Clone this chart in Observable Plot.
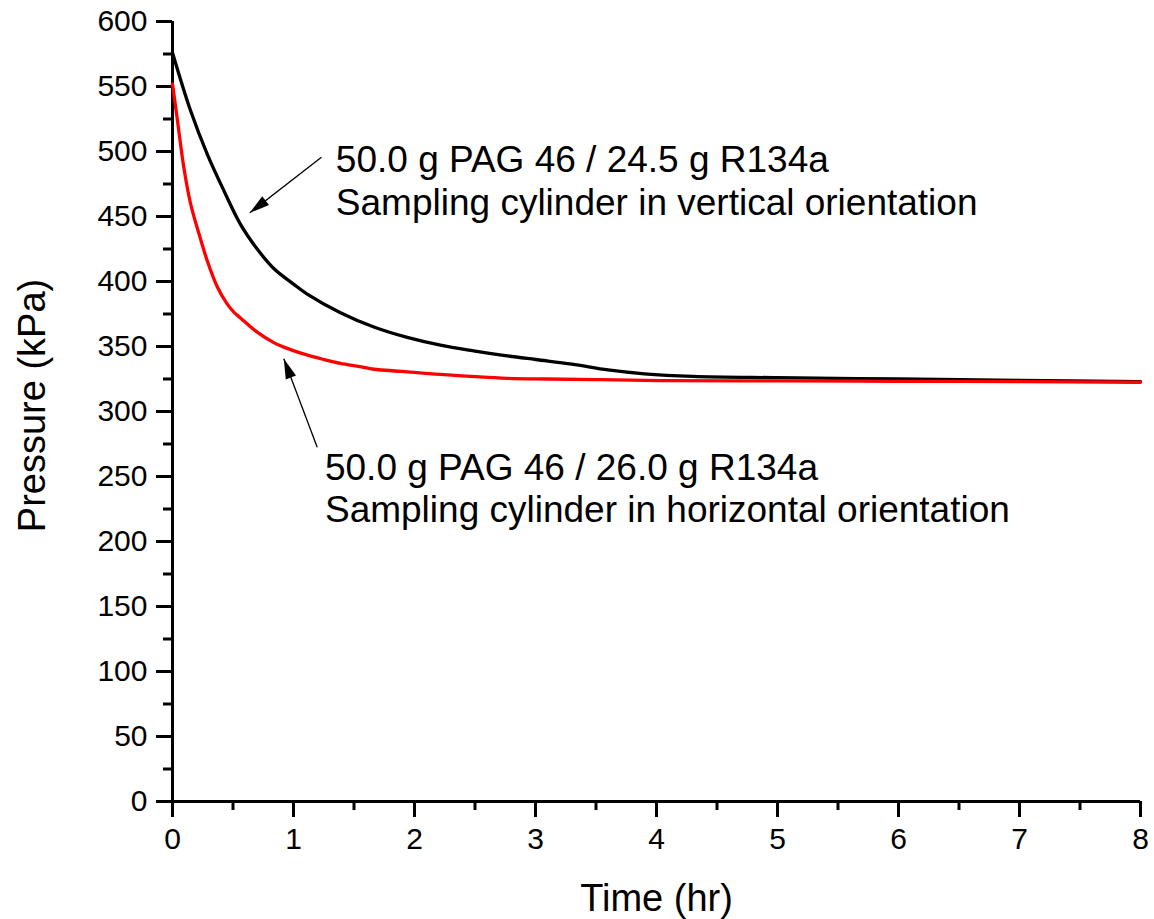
<!DOCTYPE html>
<html>
<head>
<meta charset="utf-8">
<script src="https://cdn.jsdelivr.net/npm/d3@7"></script>
<script src="https://cdn.jsdelivr.net/npm/@observablehq/plot@0.6"></script>
<style>
  body { margin: 0; background: #fff; }
  #chart svg { font-family: "Liberation Sans", Arial, sans-serif; }
</style>
</head>
<body>
<div id="chart"></div>
<script>
// ---- data ----
const verticalTime = [0, 0.149, 0.287, 0.424, 0.562, 0.70, 0.837, 1.0, 1.11, 1.388, 1.664, 1.94, 2.215, 2.5, 2.75, 3.0, 3.3, 3.6, 3.9, 4.3, 5, 6, 7, 8];
const verticalPressure = [576, 531.5, 498, 470, 444, 425, 410, 398, 390.5, 376, 365, 357, 351, 346.5, 343, 340, 336.5, 332, 329, 327, 326, 325, 324, 323];

const horizontalTime = [0, 0.038, 0.093, 0.149, 0.218, 0.287, 0.37, 0.45, 0.507, 0.562, 0.70, 0.837, 0.92, 1.11, 1.25, 1.388, 1.55, 1.664, 1.9, 2.215, 2.766, 3.09, 3.5, 4.03, 5, 6, 7, 8];
const horizontalPressure = [552, 526, 488, 460, 437, 416, 396, 383, 376.5, 372, 361, 353, 349.5, 343.5, 340, 337, 334.5, 332.5, 330.8, 328.5, 325.5, 325, 324.5, 323.8, 323.5, 323.2, 323, 322.5];

const xTicks = [0, 1, 2, 3, 4, 5, 6, 7, 8];
const xMinorTicks = [0.5, 1.5, 2.5, 3.5, 4.5, 5.5, 6.5, 7.5];
const yTicks = [0, 50, 100, 150, 200, 250, 300, 350, 400, 450, 500, 550, 600];
const yMinorTicks = [25, 75, 125, 175, 225, 275, 325, 375, 425, 475, 525, 575];

const xLabel = "Time (hr)";
const yLabel = "Pressure (kPa)";

const annotationText = [
  "50.0 g PAG 46 / 24.5 g R134a\nSampling cylinder in vertical orientation",
  "50.0 g PAG 46 / 26.0 g R134a\nSampling cylinder in horizontal orientation"
];
const annotationX = [1.35, 1.26];
const annotationY = [451.5, 214.8];   // baseline of the last line

const arrowX1 = [1.231, 1.196];
const arrowY1 = [495.6, 272.5];
const arrowX2 = [0.639, 0.92];
const arrowY2 = [452.8, 340.5];

// ---- layout ----
const W = 1154, H = 919;
const mL = 172, mR = 14, mT = 21, mB = 118;
const xDomain = [0, 8], yDomain = [0, 600];

const vertical = verticalTime.map((t, i) => ({t, p: verticalPressure[i]}));
const horizontal = horizontalTime.map((t, i) => ({t, p: horizontalPressure[i]}));
const annotations = annotationText.map((text, i) => ({text, x: annotationX[i], y: annotationY[i]}));

const kx = (W - mL - mR) / (xDomain[1] - xDomain[0]);
const ky = (H - mT - mB) / (yDomain[1] - yDomain[0]);
const arrows = arrowX1.map((x1, i) => {
  const sdx = (arrowX2[i] - x1) * kx;
  const sdy = -(arrowY2[i] - arrowY1[i]) * ky;
  return {x1, y1: arrowY1[i], x2: arrowX2[i], y2: arrowY2[i],
          angle: Math.atan2(sdx, -sdy) * 180 / Math.PI};
});

const arrowHead = {
  draw(ctx) {
    const L = 20, w = 11;
    ctx.moveTo(0, 0);
    ctx.lineTo(-w / 2, L);
    ctx.lineTo(w / 2, L);
    ctx.closePath();
  }
};

const tickFont = 30;
const fmt = (d) => String(d);

const chart = Plot.plot({
  width: W,
  height: H,
  marginLeft: mL,
  marginRight: mR,
  marginTop: mT,
  marginBottom: mB,
  style: {background: "#fff", color: "#000", fontFamily: "'Liberation Sans', Arial, sans-serif"},
  x: {domain: xDomain, label: null},
  y: {domain: yDomain, label: null},
  marks: [
    Plot.axisX(xTicks, {tickSize: 16, tickPadding: 10, fontSize: tickFont, strokeWidth: 3, tickFormat: fmt, label: null}),
    Plot.axisX(xMinorTicks, {tickSize: 9, tickFormat: () => "", strokeWidth: 3, label: null}),
    Plot.axisY(yTicks, {tickSize: 16, tickPadding: 9, fontSize: tickFont, strokeWidth: 3, tickFormat: fmt, label: null}),
    Plot.axisY(yMinorTicks, {tickSize: 9, tickFormat: () => "", strokeWidth: 3, label: null}),
    Plot.ruleX([0], {strokeWidth: 3, stroke: "#000"}),
    Plot.ruleY([0], {strokeWidth: 3, stroke: "#000"}),
    Plot.line(vertical, {x: "t", y: "p", stroke: "#000", strokeWidth: 3.3, curve: "catmull-rom"}),
    Plot.line(horizontal, {x: "t", y: "p", stroke: "#ff0000", strokeWidth: 3.3, curve: "catmull-rom"}),
    Plot.link(arrows, {x1: "x1", y1: "y1", x2: "x2", y2: "y2", stroke: "#000", strokeWidth: 1.3}),
    Plot.dot(arrows, {x: "x2", y: "y2", symbol: arrowHead, rotate: "angle", fill: "#000", stroke: "none"}),
    Plot.text(annotations, {x: "x", y: "y", text: "text", textAnchor: "start", lineAnchor: "bottom",
                            lineHeight: 1.143, fontSize: 37, fill: "#000"}),
    Plot.text([xLabel], {frameAnchor: "bottom", textAnchor: "middle", dy: 109, lineAnchor: "bottom", fontSize: 38, fill: "#000"}),
    Plot.text([yLabel], {frameAnchor: "left", textAnchor: "middle", dx: -140, dy: -6, rotate: -90, fontSize: 38, fill: "#000"})
  ]
});

document.getElementById("chart").appendChild(chart);
</script>
</body>
</html>
